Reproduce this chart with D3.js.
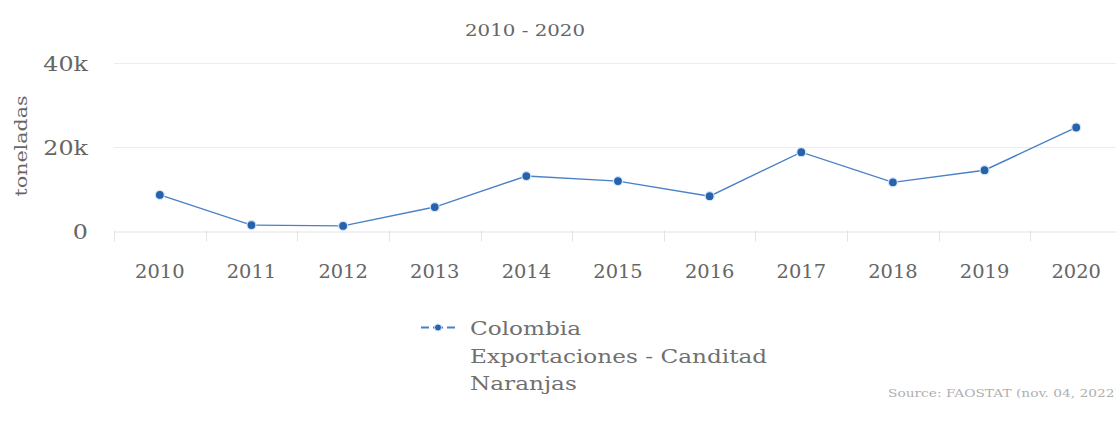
<!DOCTYPE html>
<html><head><meta charset="utf-8">
<script src="https://cdn.jsdelivr.net/npm/d3@7"></script>
<style>
html,body{margin:0;padding:0;background:#fff;}
svg{display:block;font-family:"DejaVu Serif",serif;}
</style></head>
<body><svg id="c" width="1116" height="428"></svg>
<script>
const years = ["2010","2011","2012","2013","2014","2015","2016","2017","2018","2019","2020"];
const values = [8500, 1300, 1100, 5600, 13000, 11800, 8200, 18700, 11500, 14400, 24600];
const yTicks = [0, 20000, 40000];
const yTickLabels = ["0", "20k", "40k"];
const seriesName = ["Colombia", "Exportaciones - Canditad", "Naranjas"];
const titleText = "Colombia: Exportaciones - Canditad de Naranjas";
const subtitleText = "2010 - 2020";
const sourceText = "Source: FAOSTAT (nov. 04, 2022)";

const svg = d3.select("#c");
const m = {left:114, right:1122, top:63, bottom:230.5};
const x = d3.scaleBand().domain(years).range([m.left, m.right]);
const y = d3.scaleLinear().domain([0, 40000]).range([m.bottom, m.top]);

// helper: horizontally stretched text
function sText(g, tx, ty, sx, txt, size, fill, anchor, rot) {
  return g.append("text")
    .attr("transform", `translate(${tx},${ty})` + (rot ? ` rotate(${rot})` : "") + ` scale(${sx},1)`)
    .attr("text-anchor", anchor || "start").attr("fill", fill)
    .style("font-size", size + "px").text(txt);
}

// title (mostly clipped at top, as in reference)
sText(svg, 500, -4, 1.2, titleText, 20, "#999", "middle");
sText(svg, 525, 36, 1.2, subtitleText, 16.5, "#666", "middle");

// gridlines
svg.append("g").selectAll("line").data(yTicks.filter(d=>d>0)).join("line")
  .attr("x1", m.left).attr("x2", m.right)
  .attr("y1", d=>Math.round(y(d))+0.5).attr("y2", d=>Math.round(y(d))+0.5)
  .attr("stroke","#ececec").attr("stroke-width",1);

// y labels
const yl = svg.append("g");
yTicks.forEach((d,i)=> sText(yl, 88, y(d)+8, 1.22, yTickLabels[i], 19.5, "#666", "end"));

// y axis title
sText(svg, 27, 146, 1.25, "toneladas", 16.5, "#666", "middle", -90);

// x axis
const xAxis = svg.append("g").attr("transform",`translate(0,${Math.round(m.bottom)+0.5})`)
  .call(d3.axisBottom(x).tickSize(0).tickPadding(0));
xAxis.select(".domain").attr("stroke","#e3e3e3");
xAxis.selectAll(".tick").remove();
// tick marks at category boundaries
svg.append("g").selectAll("line").data(years).join("line")
  .attr("x1", d=>Math.round(x(d))+0.5).attr("x2", d=>Math.round(x(d))+0.5)
  .attr("y1", m.bottom).attr("y2", m.bottom+11)
  .attr("stroke","#e3e3e3");
const xl = svg.append("g");
years.forEach(d => sText(xl, x(d)+x.bandwidth()/2, 278, 1.08, d, 18, "#666", "middle"));

// line
const line = d3.line().x((d,i)=>x(years[i])+x.bandwidth()/2).y(d=>y(d));
svg.append("path").datum(values).attr("d", line)
  .attr("fill","none").attr("stroke","#4a80c6").attr("stroke-width",1.4);
svg.append("g").selectAll("circle").data(values).join("circle")
  .attr("cx",(d,i)=>x(years[i])+x.bandwidth()/2).attr("cy",d=>y(d)).attr("r",4.5)
  .attr("fill","#2862ab").attr("stroke","#cfe6fb").attr("stroke-width",1.2);

// legend
const lg = svg.append("g");
lg.append("line").attr("x1",421).attr("x2",455).attr("y1",327.5).attr("y2",327.5)
  .attr("stroke","#4a80c6").attr("stroke-width",1.8).attr("stroke-dasharray","8,4,10,4,8");
lg.append("circle").attr("cx",438).attr("cy",327.5).attr("r",3.5)
  .attr("fill","#2862ab").attr("stroke","#cfe6fb").attr("stroke-width",1);
seriesName.forEach((d,i)=> sText(lg, 470, 335+i*27.5, 1.22, d, 19, "#707070", "start"));

// source
sText(svg, 888, 397, 1.25, sourceText, 11, "#b0b0b0", "start");
</script></body></html>
